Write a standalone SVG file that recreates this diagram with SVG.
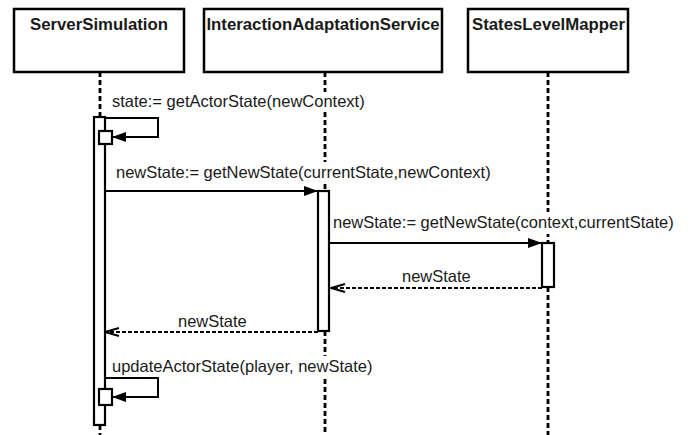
<svg xmlns="http://www.w3.org/2000/svg" width="695" height="435" viewBox="0 0 695 435">
  <style>
    .box { fill: #fff; stroke: #000; stroke-width: 2.5; }
    .title { font-family: "Liberation Sans", Arial, sans-serif; font-weight: bold; font-size: 16.8px; fill: #1a1a1a; }
    .lbl { font-family: "Liberation Sans", Arial, sans-serif; font-size: 16.5px; fill: #1a1a1a; }
    .bg { fill: #fff; }
    .life { stroke: #000; stroke-width: 2.8; stroke-dasharray: 5 3; fill: none; }
    .act { fill: #fff; stroke: #000; stroke-width: 2.2; }
    .call { stroke: #000; stroke-width: 2; fill: none; marker-end: url(#solid); }
    .ret { stroke: #000; stroke-width: 2; fill: none; stroke-dasharray: 4 2; marker-end: url(#open); }
  </style>
  <defs>
    <marker id="solid" viewBox="0 0 14 10" refX="14" refY="5" markerWidth="14" markerHeight="10" markerUnits="userSpaceOnUse" orient="auto">
      <path d="M0,0 L14,5 L0,10 Z" fill="#000"/>
    </marker>
    <marker id="open" viewBox="0 0 16 10" refX="15" refY="5" markerWidth="16" markerHeight="10" markerUnits="userSpaceOnUse" orient="auto">
      <path d="M1,1 L15,5 L1,9" fill="none" stroke="#000" stroke-width="2"/>
    </marker>
    <clipPath id="clipSLM"><rect x="468" y="9" width="160" height="63"/></clipPath>
  </defs>
  <rect width="695" height="435" fill="#fff"/>

  <!-- lifelines -->
  <g id="lifelines">
    <path class="life" d="M100,72 V117 M100,425 V435"/>
    <path class="life" d="M325,72 V191 M325,331 V435"/>
    <path class="life" d="M548,72 V243 M548,287 V435"/>
  </g>

  <g id="ServerSimulation">
    <rect class="box" x="14" y="9" width="170" height="63"/>
    <text class="title" x="99" y="30" text-anchor="middle">ServerSimulation</text>
    <rect class="act" x="94" y="117" width="11" height="308"/>
    <rect class="act" x="99" y="131" width="13" height="13"/>
    <rect class="act" x="99" y="389" width="13" height="16"/>
  </g>

  <g id="InteractionAdaptationService">
    <rect class="box" x="204" y="9" width="238" height="63"/>
    <text class="title" x="323" y="30" text-anchor="middle">InteractionAdaptationService</text>
    <rect class="act" x="318" y="191" width="11" height="140"/>
  </g>

  <g id="StatesLevelMapper">
    <rect class="box" x="468" y="9" width="160" height="63"/>
    <text class="title" x="472" y="30" clip-path="url(#clipSLM)">StatesLevelMapper</text>
    <rect class="act" x="542" y="243" width="12" height="44"/>
  </g>

  <!-- messages; labels sit on white plates that mask the lifelines -->
  <g id="connectors">
    <path class="call" d="M105,118 H158 V137 H112"/>
    <rect class="bg" x="110" y="92" width="258" height="20"/>
    <text class="lbl" x="112" y="107">state:= getActorState(newContext)</text>

    <path class="call" d="M105,191 H318"/>
    <rect class="bg" x="114" y="162" width="380" height="22"/>
    <text class="lbl" x="116" y="178">newState:= getNewState(currentState,newContext)</text>

    <path class="call" d="M329,243 H542"/>
    <rect class="bg" x="331" y="212" width="347" height="22"/>
    <text class="lbl" x="333" y="228">newState:= getNewState(context,currentState)</text>

    <path class="ret" d="M542,288 H331"/>
    <text class="lbl" x="402" y="282">newState</text>

    <path class="ret" d="M318,332 H105"/>
    <text class="lbl" x="178" y="327">newState</text>

    <path class="call" d="M105,378 H158 V397 H112"/>
    <rect class="bg" x="110" y="356" width="264" height="21"/>
    <text class="lbl" x="112" y="372">updateActorState(player, newState)</text>
  </g>
</svg>
